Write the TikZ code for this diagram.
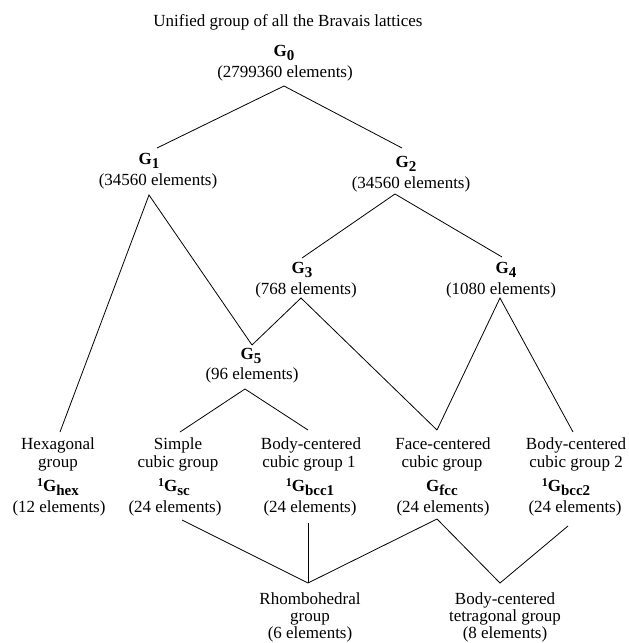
\documentclass[tikz,border=0pt]{standalone}
\usepackage{fontspec}
\setmainfont{Liberation Serif}
\tikzset{
  lbl/.style={anchor=base, inner sep=0pt, font=\fontsize{17}{18}\selectfont},
  link/.style={line width=0.8pt, black},
}
\newcommand{\Gsb}[1]{\textbf{G}\raisebox{-4pt}{\fontsize{15}{15}\selectfont\bfseries #1}}
\newcommand{\Gsp}[2]{\raisebox{5pt}{\fontsize{12}{12}\selectfont\bfseries #1}\Gsb{#2}}
\begin{document}
\begin{tikzpicture}[x=1pt,y=-1pt]
\useasboundingbox (0,0) rectangle (629,643);
% title
\node[lbl] (title) at (288,26) {Unified group of all the Bravais lattices};
% upper groups
\node[lbl] (g0a) at (284,56) {\Gsb{0}};
\node[lbl] (g0b) at (285,77) {(2799360 elements)};
\node[lbl] (g1a) at (149,164) {\Gsb{1}};
\node[lbl] (g1b) at (158,185) {(34560 elements)};
\node[lbl] (g2a) at (406,167) {\Gsb{2}};
\node[lbl] (g2b) at (411,188) {(34560 elements)};
\node[lbl] (g3a) at (302,273) {\Gsb{3}};
\node[lbl] (g3b) at (306,294) {(768 elements)};
\node[lbl] (g4a) at (506,273) {\Gsb{4}};
\node[lbl] (g4b) at (501,294) {(1080 elements)};
\node[lbl] (g5a) at (251,359) {\Gsb{5}};
\node[lbl] (g5b) at (252,379) {(96 elements)};
% lattice groups
\node[lbl] (hexa) at (58,449) {Hexagonal};
\node[lbl] (hexb) at (58,467) {group};
\node[lbl] (hexc) at (58,491) {\Gsp{1}{hex}};
\node[lbl] (hexd) at (59,512) {(12 elements)};
\node[lbl] (sca) at (178,449) {Simple};
\node[lbl] (scb) at (178,467) {cubic group};
\node[lbl] (scc) at (174,491) {\Gsp{1}{sc}};
\node[lbl] (scd) at (175,512) {(24 elements)};
\node[lbl] (bia) at (311,449) {Body-centered};
\node[lbl] (bib) at (309,467) {cubic group 1};
\node[lbl] (bic) at (310,491) {\Gsp{1}{bcc1}};
\node[lbl] (bid) at (310,512) {(24 elements)};
\node[lbl] (fca) at (443,449) {Face-centered};
\node[lbl] (fcb) at (442,467) {cubic group};
\node[lbl] (fcc) at (442,491) {\Gsb{fcc}};
\node[lbl] (fcd) at (443,512) {(24 elements)};
\node[lbl] (bja) at (576,449) {Body-centered};
\node[lbl] (bjb) at (576,467) {cubic group 2};
\node[lbl] (bjc) at (566,491) {\Gsp{1}{bcc2}};
\node[lbl] (bjd) at (575,512) {(24 elements)};
\node[lbl] (rha) at (310,604) {Rhombohedral};
\node[lbl] (rhb) at (310,621) {group};
\node[lbl] (rhc) at (310,638) {(6 elements)};
\node[lbl] (bta) at (505,604) {Body-centered};
\node[lbl] (btb) at (505,621) {tetragonal group};
\node[lbl] (btc) at (505,638) {(8 elements)};
% connector end points
\coordinate (c0b) at (284,86);
\coordinate (c1t) at (157,148);
\coordinate (c2t) at (402,148);
\coordinate (c1b) at (149,195);
\coordinate (chext) at (60,432);
\coordinate (c5t) at (252,345);
\coordinate (c2b) at (395,194);
\coordinate (c3t) at (302,258);
\coordinate (c4t) at (502,257);
\coordinate (c3b) at (301,298);
\coordinate (cfcct) at (437,430);
\coordinate (c4b) at (500,298);
\coordinate (cbj) at (573,432);
\coordinate (c5b) at (245,389);
\coordinate (csct) at (180,432);
\coordinate (cbit) at (308,430);
\coordinate (cscb) at (182,520);
\coordinate (cbib) at (308,523);
\coordinate (cfccb) at (437,519);
\coordinate (cbjb) at (568,526);
\coordinate (crh) at (308,583);
\coordinate (cbt) at (500,583);
% connectors
\draw[link] (c1t) -- (c0b) -- (c2t);
\draw[link] (chext) -- (c1b) -- (c5t);
\draw[link] (c3t) -- (c2b) -- (c4t);
\draw[link] (c5t) -- (c3b) -- (cfcct);
\draw[link] (cfcct) -- (c4b) -- (cbj);
\draw[link] (csct) -- (c5b) -- (cbit);
\draw[link] (cscb) -- (crh) -- (cfccb);
\draw[link] (cbib) -- (crh);
\draw[link] (cfccb) -- (cbt) -- (cbjb);
\end{tikzpicture}
\end{document}
